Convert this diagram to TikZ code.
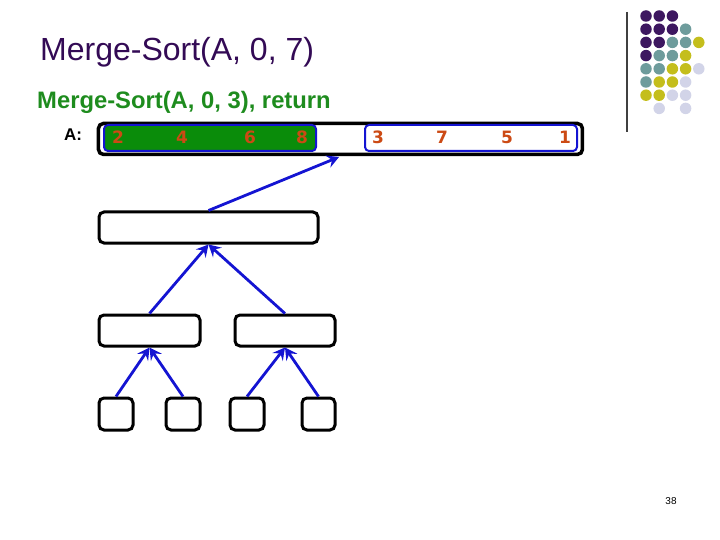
\documentclass[tikz,border=0pt]{standalone}
\usepackage{fontspec}
\setmainfont{Liberation Sans}
\newfontfamily\numfont{DejaVu Sans}
\usetikzlibrary{arrows.meta}
\definecolor{titlepurple}{HTML}{330A55}
\definecolor{subgreen}{HTML}{1E8C1E}
\definecolor{numorange}{HTML}{CC4A14}
\definecolor{arrblue}{HTML}{1414D2}
\definecolor{boxgreen}{HTML}{0A8C0A}
\definecolor{dotP}{HTML}{3D1760}
\definecolor{dotT}{HTML}{6E9C9C}
\definecolor{dotY}{HTML}{C4BE1C}
\definecolor{dotL}{HTML}{D2D4E8}
\begin{document}
\begin{tikzpicture}[x=1pt,y=-1pt,
  tbox/.style={draw=black, line width=3pt, rounded corners=5pt, inner sep=0pt, anchor=north west},
  ibox/.style={draw=arrblue, line width=2pt, rounded corners=4pt, inner sep=0pt, anchor=north west, minimum width=212, minimum height=26},
  arr/.style={draw=arrblue, line width=2.8pt, -{Stealth[length=12pt,width=13pt,inset=4.5pt]}},
  num/.style={font=\numfont\bfseries\fontsize{17}{17}\selectfont, text=numorange, inner sep=0pt},
  dot/.style={circle, inner sep=0pt, minimum size=11.5pt}
]
\useasboundingbox (0,0) rectangle (720,540);
% title
\node[anchor=base west, inner sep=0pt, text=titlepurple, font=\fontsize{32}{32}\selectfont] (title) at (40,61) {Merge-Sort(A, 0, 7)};
\node[anchor=base west, inner sep=0pt, text=subgreen, font=\bfseries\fontsize{23.8}{24}\selectfont] (sub) at (37,109) {Merge-Sort(A, 0, 3), return};
\node[anchor=base west, inner sep=0pt, font=\bfseries\fontsize{17}{17}\selectfont] (alab) at (64,141) {A:};
% array
\node[tbox, line width=3.5pt, minimum width=484, minimum height=31] (array) at (96.7,121.7) {};
\node[ibox, fill=boxgreen] (gL) at (103,124) {};
\node[ibox, fill=white] (gR) at (364,124) {};
\foreach \x/\v/\n in {118/2/n1,182/4/n2,250/6/n3,302/8/n4,378/3/n5,442/7/n6,507/5/n7,565/1/n8}
  \node[num] (\n) at (\x,137) {\v};
% tree
\node[tbox, minimum width=219, minimum height=31] (L1) at (97.5,210.5) {};
\node[tbox, minimum width=101, minimum height=31] (L2a) at (97.5,313.5) {};
\node[tbox, minimum width=100, minimum height=31] (L2b) at (233.5,313.5) {};
\node[tbox, minimum width=34, minimum height=32] (L3a) at (97.5,396.5) {};
\node[tbox, minimum width=34, minimum height=32] (L3b) at (164.5,396.5) {};
\node[tbox, minimum width=34, minimum height=32] (L3c) at (228.5,396.5) {};
\node[tbox, minimum width=33, minimum height=32] (L3d) at (300.5,396.5) {};
\coordinate (tip) at (339,157);
\draw[arr] (L1.north) -- (tip);
\draw[arr] (L2a.north) -- (L1.south);
\draw[arr] (L2b.north) -- (L1.south);
\draw[arr] (L3a.north) -- (L2a.south);
\draw[arr] (L3b.north) -- (L2a.south);
\draw[arr] (L3c.north) -- (L2b.south);
\draw[arr] (L3d.north) -- (L2b.south);
% decoration
\coordinate (vtop) at (627,12);
\coordinate (vbot) at (627,132);
\draw[line width=1.2pt, black!75] (vtop) -- (vbot);
\foreach \r/\row in {1/{P,P,P}, 2/{P,P,P,T}, 3/{P,P,T,T,Y}, 4/{P,T,T,Y}, 5/{T,T,Y,Y,L}, 6/{T,Y,Y,L}, 7/{Y,Y,L,L}}{
  \foreach \c [count=\i] in \row
    \node[dot, fill=dot\c] (d\r-\i) at ({646+13.2*(\i-1)},{16+13.2*(\r-1)}) {};
}
\node[dot, fill=dotL] (d8-2) at (659.2,108.4) {};
\node[dot, fill=dotL] (d8-4) at (685.6,108.4) {};
% page number
\node[inner sep=0pt, font=\fontsize{10}{10}\selectfont] (pnum) at (671,501) {38};
\end{tikzpicture}
\end{document}
